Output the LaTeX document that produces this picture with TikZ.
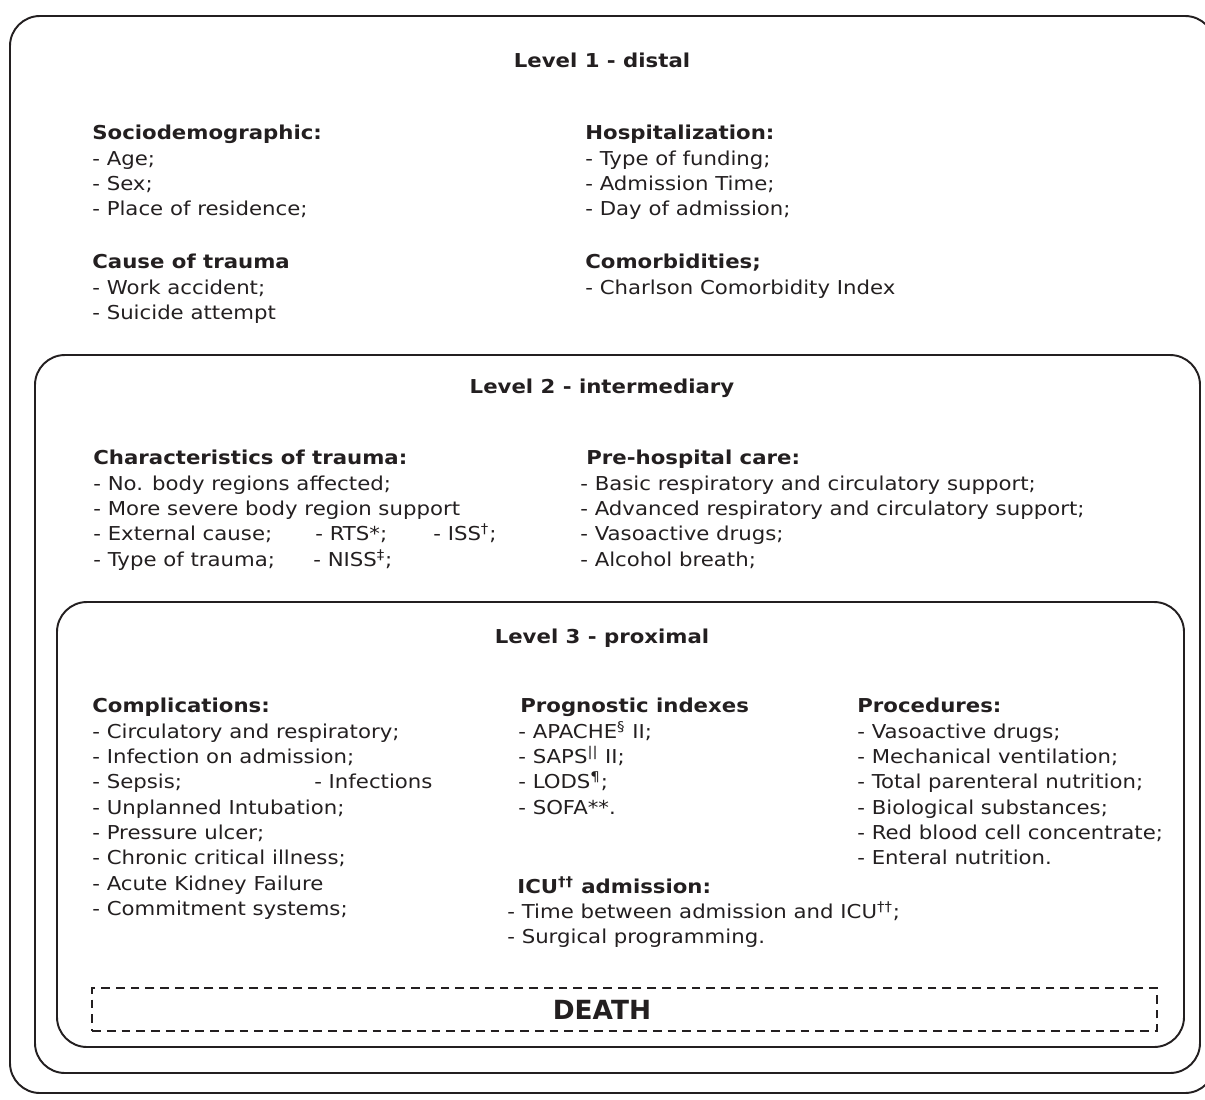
\documentclass[tikz,border=0pt]{standalone}
\usepackage{fontspec}
\setmainfont{DejaVu Sans}[FakeStretch=1.11]
\newfontfamily\deathfont{DejaVu Sans}
\definecolor{ink}{HTML}{231F20}
\tikzset{level/.style={draw=ink,line width=1.1pt,rounded corners=0.6cm}}
\tikzset{header/.style={text=ink,inner sep=0pt,font=\fontsize{10.9}{14.4}\selectfont\bfseries}}
\tikzset{block/.style={anchor=north west,align=left,text=ink,inner sep=0pt,font=\fontsize{10.9}{14.4}\selectfont}}
\tikzset{deathbox/.style={draw=ink,dash pattern=on 5pt off 3.4pt,line width=1.5pt,minimum width=21.3cm,minimum height=0.86cm,inner sep=0pt}}

\begin{document}
\begin{tikzpicture}[x=0.02cm,y=-0.02cm]
        \useasboundingbox (0,0) rectangle (1205,1100);
        \draw[level] (10,16) rectangle (1215,1093);
        \draw[level] (35,355) rectangle (1200,1073);
        \draw[level] (57,602) rectangle (1184,1047);
        \node[header] (lvlone) at (602,60) {Level 1 - distal};
        \node[header] (lvltwo) at (602,388) {Level 2 - intermediary};
        \node[header] (lvlthree) at (602,638) {Level 3 - proximal};
        \node[block] (socio) at (92,125) {\textbf{Sociodemographic:}\\- Age;\\- Sex;\\- Place of residence;};
        \node[block] (cause) at (92,254) {\textbf{Cause of trauma}\\- Work accident;\\- Suicide attempt};
        \node[block] (hosp) at (585,125) {\textbf{Hospitalization:}\\- Type of funding;\\- Admission Time;\\- Day of admission;};
        \node[block] (comorb) at (585,254) {\textbf{Comorbidities;}\\- Charlson Comorbidity Index};
        \node[block] (charac) at (93,450) {\textbf{Characteristics of trauma:}\\- No. body regions affected;\\- More severe body region support\\\makebox[4.44cm][l]{- External cause;}\makebox[2.36cm][l]{- RTS*;}- ISS\textsuperscript{†};\\\makebox[4.4cm][l]{- Type of trauma;}- NISS\textsuperscript{‡};};
        \node[block] (prehosp) at (580,450) {\hspace*{0.12cm}\textbf{Pre-hospital care:}\\- Basic respiratory and circulatory support;\\- Advanced respiratory and circulatory support;\\- Vasoactive drugs;\\- Alcohol breath;};
        \node[block] (compl) at (92,698) {\textbf{Complications:}\\- Circulatory and respiratory;\\- Infection on admission;\\\makebox[4.44cm][l]{- Sepsis;}- Infections\\- Unplanned Intubation;\\- Pressure ulcer;\\- Chronic critical illness;\\- Acute Kidney Failure\\- Commitment systems;};
        \node[block] (progn) at (518,698) {\hspace*{0.04cm}\textbf{Prognostic indexes}\\- APACHE\textsuperscript{§} II;\\- SAPS\textsuperscript{||} II;\\- LODS\textsuperscript{¶};\\- SOFA**.};
        \node[block] (icu) at (507,876) {\hspace*{0.2cm}\textbf{ICU\textsuperscript{††} admission:}\\- Time between admission and ICU\textsuperscript{††};\\- Surgical programming.};
        \node[block] (proc) at (857,698) {\textbf{Procedures:}\\- Vasoactive drugs;\\- Mechanical ventilation;\\- Total parenteral nutrition;\\- Biological substances;\\- Red blood cell concentrate;\\- Enteral nutrition.};
        \node[deathbox] (deathframe) at (624.5,1009.5) {};
        \node[text=ink,inner sep=0pt,font=\deathfont\fontsize{15}{18}\selectfont\bfseries] (death) at (602,1010) {DEATH};
    \end{tikzpicture}
\end{document}
